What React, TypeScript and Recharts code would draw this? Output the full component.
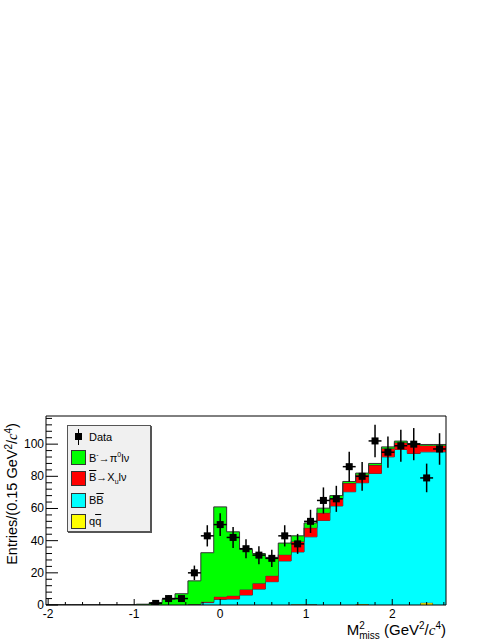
import React from "react";
import {
  ComposedChart,
  Area,
  Scatter,
  ErrorBar,
  XAxis,
  YAxis,
  ReferenceArea,
} from "recharts";

// ─── Binning: 31 bins of 0.15 GeV²/c⁴ from -2.025 to 2.625 ──────────────────

const BIN_LO = -2.025;
const BIN_W = 0.15;
const N_BINS = 31;

// Stacked MC components, one value per bin (bottom layer first)
const qqBar = [
  0, 0, 0, 0, 0, 0, 0, 0, 0, 0, 0, 0, 0, 0, 0, 0,
  0, 0, 0, 0.5, 0.4, 0, 0, 0, 0.6, 0, 0, 0, 0, 1.4, 0,
];
const bbBar = [
  0, 0, 0, 0, 0, 0, 0, 0, 0, 0, 0, 0.3, 1.5, 3.5, 3.7, 6.2,
  9.9, 14.5, 27.4, 32.5, 42, 52.6, 61.6, 70.4, 75.4, 81.8, 92.1, 96.7, 94.2, 93.8, 95.2,
];
const xuLnu = [
  0, 0, 0, 0, 0, 0, 0, 0, 0, 0, 0, 0.2, 0.5, 1.7, 2.1, 3.5,
  3.6, 3.7, 3.9, 6.5, 5.6, 4.7, 4.6, 5.4, 5, 5.2, 5.2, 4.3, 5.6, 4, 4,
];
const piLnu = [
  0, 0, 0, 0, 0, 0, 0, 0.5, 1.5, 3.5, 7, 14.5, 30.5, 55.8, 39.7, 24.8,
  18.5, 11.4, 7.2, 3.5, 3, 2.9, 1.8, 1, 1, 1, 1, 0.9, 0.6, 0.6, 0.6,
];

// Data: entries per bin and their vertical errors (0 = empty bin)
const dataCounts = [
  0, 0, 0, 0, 0, 0, 0, 0, 1, 4, 4, 20, 43, 50, 42, 35,
  31, 29, 43, 38, 52, 65, 66, 86, 80, 102, 95, 99, 100, 79, 97,
];
const dataErrors = [
  0, 0, 0, 0, 0, 0, 0, 0, 1, 2, 2, 4.5, 6.6, 7.1, 6.5, 5.9,
  5.6, 5.4, 6.6, 6.2, 7.2, 8.1, 8.1, 9.3, 8.9, 10.1, 9.7, 9.9, 10, 8.9, 9.8,
];

const X_DOMAIN: [number, number] = [BIN_LO, BIN_LO + BIN_W * N_BINS];
const Y_DOMAIN: [number, number] = [0, 117.5];
const X_TICKS = Array.from({ length: 24 }, (_, k) => Number((-2 + 0.2 * k).toFixed(2)));
const Y_TICKS = Array.from({ length: 30 }, (_, k) => 4 * k);

const FONT = '"Liberation Sans", Arial, Helvetica, sans-serif';

// step edges: one row per left bin edge, plus the closing right edge
const histRows = Array.from({ length: N_BINS + 1 }, (_, k) => {
  const b = Math.min(k, N_BINS - 1);
  return {
    x: Number((BIN_LO + BIN_W * k).toFixed(3)),
    qq: qqBar[b],
    bb: bbBar[b],
    xu: xuLnu[b],
    pi: piLnu[b],
  };
});

const dataPoints = dataCounts
  .map((n, i) => ({
    x: Number((BIN_LO + BIN_W * (i + 0.5)).toFixed(3)),
    y: n,
    ex: BIN_W / 2,
    ey: dataErrors[i],
  }))
  .filter((p) => p.y > 0);

// ─── Axis ticks (ROOT style: pointing into the frame) ───────────────────────

const XTick = (props: any) => {
  const { x, y, payload } = props;
  const v = payload.value;
  const major = Math.abs(v - Math.round(v)) < 1e-6;
  return (
    <g>
      <line x1={x} x2={x} y1={y} y2={y - (major ? 6 : 3)} stroke="#000" />
      {major ? (
        <text x={x} y={y + 13} textAnchor="middle" fontSize={12} fontFamily={FONT} fill="#000">
          {Math.round(v)}
        </text>
      ) : null}
    </g>
  );
};

const YTick = (props: any) => {
  const { x, y, payload } = props;
  const v = payload.value;
  const major = v % 20 === 0;
  return (
    <g>
      <line x1={x} x2={x + (major ? 12 : 6)} y1={y} y2={y} stroke="#000" />
      {major ? (
        <text x={x - 2} y={y + 4} textAnchor="end" fontSize={12} fontFamily={FONT} fill="#000">
          {v}
        </text>
      ) : null}
    </g>
  );
};

const DataMarker = (props: any) => {
  const { cx, cy } = props;
  return <rect x={cx - 3.5} y={cy - 3.5} width={7} height={7} fill="#000" />;
};

// ─── Legend ──────────────────────────────────────────────────────────────────

const LegendRow = ({ top, children, swatch }: { top: number; children: React.ReactNode; swatch: React.ReactNode }) => (
  <div style={{ position: "absolute", left: 0, top, height: 21, width: "100%", display: "flex", alignItems: "center" }}>
    <div style={{ width: 20, display: "flex", justifyContent: "center", alignItems: "center", marginLeft: 0 }}>
      {swatch}
    </div>
    <div style={{ marginLeft: 1, whiteSpace: "nowrap" }}>{children}</div>
  </div>
);

const Box = ({ color }: { color: string }) => (
  <div style={{ width: 13, height: 13, background: color, border: "1px solid #333" }} />
);

const Over = ({ children }: { children: React.ReactNode }) => (
  <span style={{ textDecoration: "overline" }}>{children}</span>
);

const Legend = () => (
  <div
    style={{
      position: "absolute",
      left: 67,
      top: 425,
      width: 82,
      height: 105,
      background: "#f0f0f0",
      border: "1px solid #555",
      boxShadow: "1px 1px 0 #555",
      fontFamily: FONT,
      fontSize: 11,
      color: "#000",
    }}
  >
    <LegendRow
      top={0}
      swatch={
        <div style={{ position: "relative", width: 14, height: 16 }}>
          <div style={{ position: "absolute", left: 6.5, top: 0, width: 1.5, height: 16, background: "#000" }} />
          <div style={{ position: "absolute", left: 3.5, top: 4.5, width: 7, height: 7, background: "#000" }} />
        </div>
      }
    >
      Data
    </LegendRow>
    <LegendRow top={21} swatch={<Box color="#00ff00" />}>
      B<sup style={{ fontSize: 7 }}>-</sup>→π<sup style={{ fontSize: 7 }}>0</sup>lν
    </LegendRow>
    <LegendRow top={42} swatch={<Box color="#ff0000" />}>
      <Over>B</Over>→X<sub style={{ fontSize: 7 }}>u</sub>lν
    </LegendRow>
    <LegendRow top={63.5} swatch={<Box color="#00ffff" />}>
      B<Over>B</Over>
    </LegendRow>
    <LegendRow top={84.5} swatch={<Box color="#ffff00" />}>
      q<Over>q</Over>
    </LegendRow>
  </div>
);

// ─── Chart ───────────────────────────────────────────────────────────────────

export default function App() {
  return (
    <div style={{ position: "absolute", left: 0, top: 0, width: 494, height: 640, background: "#fff" }}>
      <ComposedChart
        width={494}
        height={640}
        data={histRows}
        margin={{ top: 416, right: 48, bottom: 0, left: 0 }}
      >
        <XAxis
          dataKey="x"
          type="number"
          domain={X_DOMAIN}
          allowDataOverflow
          ticks={X_TICKS}
          interval={0}
          tick={<XTick />}
          tickSize={0}
          tickMargin={0}
          tickLine={false}
          axisLine={false}
          height={35}
        />
        <YAxis
          type="number"
          domain={Y_DOMAIN}
          allowDataOverflow
          ticks={Y_TICKS}
          interval={0}
          tick={<YTick />}
          tickSize={0}
          tickMargin={0}
          tickLine={false}
          axisLine={false}
          width={46}
        />
        <Area type="stepAfter" dataKey="qq" stackId="mc" fill="#ffff00" fillOpacity={1} stroke="#333" strokeWidth={1} isAnimationActive={false} />
        <Area type="stepAfter" dataKey="bb" stackId="mc" fill="#00ffff" fillOpacity={1} stroke="#333" strokeWidth={1} isAnimationActive={false} />
        <Area type="stepAfter" dataKey="xu" stackId="mc" fill="#ff0000" fillOpacity={1} stroke="#333" strokeWidth={1} isAnimationActive={false} />
        <Area type="stepAfter" dataKey="pi" stackId="mc" fill="#00ff00" fillOpacity={1} stroke="#333" strokeWidth={1} isAnimationActive={false} />
        <Scatter data={dataPoints} dataKey="y" shape={<DataMarker />} isAnimationActive={false}>
          <ErrorBar dataKey="ey" direction="y" width={0} stroke="#000" strokeWidth={1.5} />
          <ErrorBar dataKey="ex" direction="x" width={0} stroke="#000" strokeWidth={1.5} />
        </Scatter>
        <ReferenceArea x1={X_DOMAIN[0]} x2={X_DOMAIN[1]} y1={Y_DOMAIN[0]} y2={Y_DOMAIN[1]} fill="none" stroke="#000" strokeWidth={1} />
      </ComposedChart>
      <Legend />
      <div
        style={{
          position: "absolute",
          left: 12,
          top: 494,
          transform: "translate(-50%, -50%) rotate(-90deg)",
          whiteSpace: "nowrap",
          fontFamily: FONT,
          fontSize: 14.5,
          color: "#000",
        }}
      >
        Entries/(0.15 GeV<sup style={{ fontSize: 10 }}>2</sup>/<i style={{ fontFamily: "serif" }}>c</i>
        <sup style={{ fontSize: 10 }}>4</sup>)
      </div>
      <div
        style={{
          position: "absolute",
          right: 48,
          top: 617,
          whiteSpace: "nowrap",
          fontFamily: FONT,
          fontSize: 15,
          color: "#000",
          lineHeight: "18px",
        }}
      >
        M
        <span style={{ display: "inline-flex", flexDirection: "column", verticalAlign: "middle", fontSize: 10, lineHeight: "10px" }}>
          <span>2</span>
          <span>miss</span>
        </span>{" "}
        (GeV<sup style={{ fontSize: 10 }}>2</sup>/<i style={{ fontFamily: "serif" }}>c</i>
        <sup style={{ fontSize: 10 }}>4</sup>)
      </div>
    </div>
  );
}
